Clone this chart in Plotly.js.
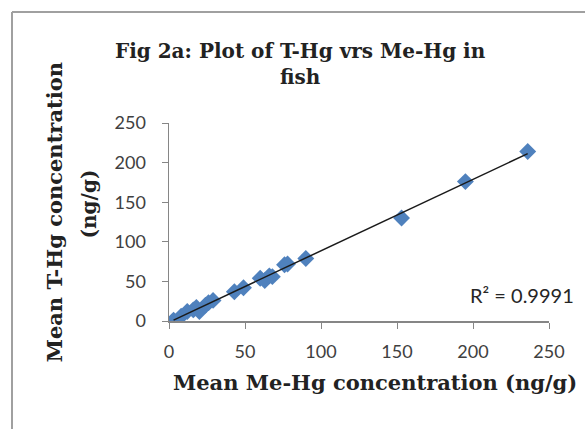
<!DOCTYPE html>
<html><head><meta charset="utf-8">
<script src="https://cdn.plot.ly/plotly-3.0.1.min.js"></script>
<style>html,body{margin:0;padding:0;background:#fff;}
#chart{width:585px;height:429px;}</style>
</head><body><div id="chart"></div>
<script>
var meHg = [3, 8, 12, 16, 18, 20, 24, 26, 29, 43, 49, 60, 63, 66, 68, 76, 78, 90, 153, 195, 236];
var tHg  = [1, 6, 12, 14, 17, 12, 20, 23, 26, 37, 42, 54, 51, 57, 56, 71, 72, 79, 130, 176, 214];
var xTicks = [0, 50, 100, 150, 200, 250];
var yTicks = [0, 50, 100, 150, 200, 250];
var r2Label = 'R\u00b2 = 0.9991';

// least-squares trendline
var n = meHg.length, sx=0, sy=0, sxx=0, sxy=0;
for (var i=0;i<n;i++){sx+=meHg[i];sy+=tHg[i];sxx+=meHg[i]*meHg[i];sxy+=meHg[i]*tHg[i];}
var slope=(n*sxy-sx*sy)/(n*sxx-sx*sx), icpt=(sy-slope*sx)/n;
var xmin=Math.min.apply(null,meHg), xmax=Math.max.apply(null,meHg);

var serif = 'DejaVu Serif';
var tickFont = {family:'Lato', size:18, color:'#404040'};

var data = [
  {x:meHg, y:tHg, mode:'markers', type:'scatter',
   marker:{symbol:'diamond', size:13, color:'#4F81BD'}, showlegend:false},
  {x:[xmin,xmax], y:[icpt+slope*xmin, icpt+slope*xmax], mode:'lines', type:'scatter',
   line:{color:'#1a1a1a', width:1.5}, hoverinfo:'skip', showlegend:false}
];

// frame edges in paper units (plot area is 380 x 198 px, origin at 169,321)
var fx0 = (12-169)/380, fy1 = (321-12)/198;
var layout = {
  width:585, height:429,
  margin:{l:169, r:36, t:123, b:108},
  paper_bgcolor:'#fff', plot_bgcolor:'#fff',
  showlegend:false,
  title:{text:'<b>Fig 2a: Plot of T-Hg vrs Me-Hg in<br>fish</b>', font:{family:serif, size:20, color:'#222'},
         x:0.345, xanchor:'center', xref:'paper', y:0.865, yanchor:'top', yref:'container'},
  xaxis:{range:[0,250], tickvals:xTicks, ticktext:xTicks.map(String), showgrid:false, zeroline:false,
         showline:true, linecolor:'#868686', linewidth:1.5, ticks:'outside', ticklen:6, tickcolor:'#868686',
         tickfont:tickFont, ticklabelstandoff:8, fixedrange:true},
  yaxis:{range:[0,250], tickvals:yTicks, ticktext:yTicks.map(String), showgrid:false, zeroline:false,
         showline:true, linecolor:'#868686', linewidth:1.5, ticks:'outside', ticklen:6, tickcolor:'#868686',
         tickfont:tickFont, ticklabelstandoff:12, fixedrange:true},
  shapes:[
    {type:'line', xref:'paper', yref:'paper', x0:fx0, x1:fx0, y0:-1, y1:fy1, line:{color:'#a0a0a0', width:2}, layer:'above'},
    {type:'line', xref:'paper', yref:'paper', x0:fx0, x1:1.2, y0:fy1, y1:fy1, line:{color:'#a0a0a0', width:2}, layer:'above'}
  ],
  annotations:[
    {text:r2Label, xref:'paper', yref:'paper', x:1.072, y:0.131, xanchor:'right', yanchor:'middle',
     showarrow:false, font:{family:'Lato', size:20, color:'#262626'}},
    {text:'<b>Mean Me-Hg concentration (ng/g)</b>', xref:'paper', yref:'paper', x:0.006, y:-0.313,
     xanchor:'left', yanchor:'middle', showarrow:false, font:{family:serif, size:21, color:'#222'}},
    {text:'<b>Mean T-Hg concentration</b>', xref:'paper', yref:'paper', x:-0.302, y:0.55,
     xanchor:'center', yanchor:'middle', textangle:-90, showarrow:false, font:{family:serif, size:21, color:'#222'}},
    {text:'<b>(ng/g)</b>', xref:'paper', yref:'paper', x:-0.21, y:0.59,
     xanchor:'center', yanchor:'middle', textangle:-90, showarrow:false, font:{family:serif, size:20, color:'#222'}}
  ]
};
Plotly.newPlot('chart', data, layout, {staticPlot:true, displayModeBar:false});
</script></body></html>
